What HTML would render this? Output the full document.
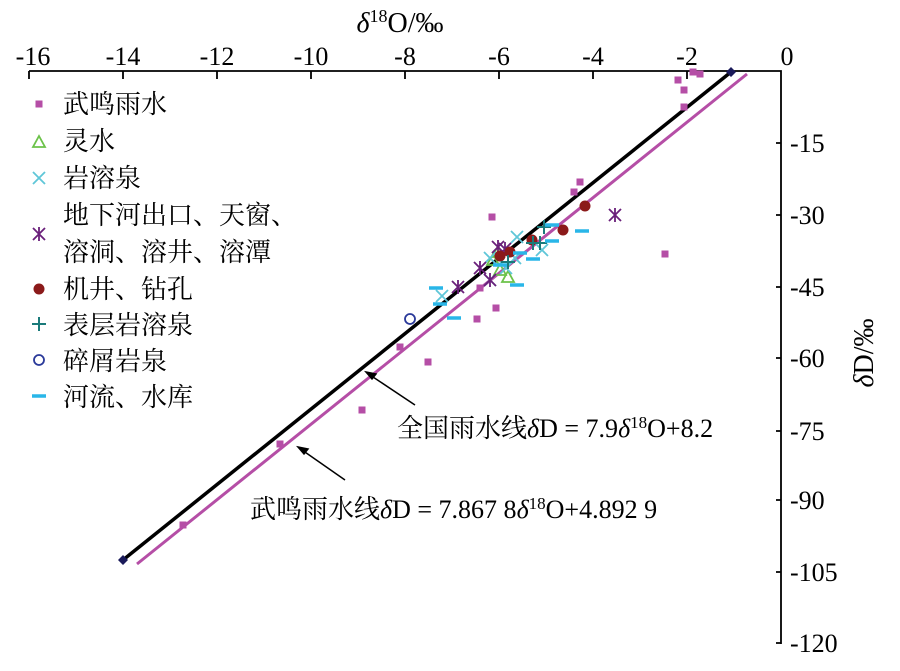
<!DOCTYPE html>
<html><head><meta charset="utf-8"><style>
body{margin:0;background:#fff}
svg text{font-family:"Liberation Serif","Noto Serif CJK SC",serif;fill:#000}
</style></head><body>
<svg width="900" height="666" viewBox="0 0 900 666" xmlns="http://www.w3.org/2000/svg">
<defs>
<rect id="sq" x="-3.5" y="-3.5" width="7" height="7" fill="#b54ea6"/>
<path id="tr" d="M0,-6 L6,5 L-6,5Z" fill="none" stroke="#6cc24a" stroke-width="1.8"/>
<path id="xx" d="M-6,-6L6,6M-6,6L6,-6" stroke="#5fc6d8" stroke-width="1.8"/>
<path id="st" d="M-6,-6L6,6M-6,6L6,-6M0,-7V7" stroke="#6a1f7a" stroke-width="1.8"/>
<circle id="ci" r="5.5" fill="#8b1a1a"/>
<path id="pl" d="M-7,0H7M0,-7V7" stroke="#1a7a7a" stroke-width="2"/>
<circle id="oc" r="5" fill="none" stroke="#2b3a9a" stroke-width="1.8"/>
<path id="ds" d="M-7,0H7" stroke="#29b6e8" stroke-width="3.5"/>
</defs>
<text x="400" y="32" font-size="28" text-anchor="middle"><tspan font-style="italic">δ</tspan><tspan font-size="18" dy="-10">18</tspan><tspan dy="10">O/‰</tspan></text>
<g font-size="26" text-anchor="middle">
<text x="33" y="65">-16</text><text x="123" y="65">-14</text><text x="217" y="65">-12</text><text x="311" y="65">-10</text><text x="405" y="65">-8</text><text x="499" y="65">-6</text><text x="593" y="65">-4</text><text x="687" y="65">-2</text><text x="787" y="65">0</text>
</g>
<g stroke="#000" stroke-width="1.8" fill="none">
<path d="M29,71H781V644"/>
<path d="M29,71v8M123,71v8M217,71v8M311,71v8M405,71v8M499,71v8M593,71v8M687,71v8"/>
<path d="M776,143h5M776,215h5M776,287h5M776,358h5M776,431h5M776,500h5M776,572h5M776,643h5"/>
</g>
<g font-size="26">
<text x="790" y="152">-15</text><text x="790" y="224">-30</text><text x="790" y="296">-45</text><text x="790" y="367">-60</text><text x="790" y="440">-75</text><text x="790" y="509">-90</text><text x="790" y="581">-105</text><text x="790" y="652">-120</text>
</g>
<text transform="translate(873,353) rotate(-90)" font-size="28" text-anchor="middle"><tspan font-style="italic">δ</tspan>D/‰</text>
<line x1="123" y1="560" x2="731" y2="72" stroke="#000" stroke-width="3.5"/>
<line x1="137" y1="564" x2="747" y2="74" stroke="#b54ea6" stroke-width="3"/>
<path d="M123,555l5,5l-5,5l-5,-5zM731,67l5,5l-5,5l-5,-5z" fill="#1a1a5a"/>
<g>
<use href="#sq" x="678" y="80"/><use href="#sq" x="693" y="72"/><use href="#sq" x="700" y="74"/><use href="#sq" x="684" y="90"/><use href="#sq" x="684" y="107"/><use href="#sq" x="580" y="182"/><use href="#sq" x="574" y="192"/><use href="#sq" x="492" y="217"/><use href="#sq" x="665" y="254"/><use href="#sq" x="477" y="319"/><use href="#sq" x="496" y="308"/><use href="#sq" x="400" y="347"/><use href="#sq" x="428" y="362"/><use href="#sq" x="362" y="410"/><use href="#sq" x="280" y="444"/><use href="#sq" x="183" y="525"/><use href="#sq" x="480" y="288"/>
<use href="#tr" x="500" y="270"/><use href="#tr" x="508" y="277"/><use href="#tr" x="498" y="252"/><use href="#tr" x="493" y="260"/>
<use href="#xx" x="517" y="237"/><use href="#xx" x="542" y="250"/><use href="#xx" x="442" y="296"/><use href="#xx" x="490" y="258"/><use href="#xx" x="506" y="268"/><use href="#xx" x="490" y="280"/><use href="#xx" x="515" y="258"/>
<use href="#st" x="615" y="215"/><use href="#st" x="498" y="247"/><use href="#st" x="480" y="268"/><use href="#st" x="458" y="287"/><use href="#st" x="490" y="280"/><use href="#st" x="505" y="249"/>
<use href="#ci" x="585" y="206"/><use href="#ci" x="563" y="230"/><use href="#ci" x="532" y="240"/><use href="#ci" x="500" y="256"/><use href="#ci" x="510" y="252"/>
<use href="#pl" x="544" y="227"/><use href="#pl" x="533" y="243"/><use href="#pl" x="540" y="243"/><use href="#pl" x="508" y="262"/>
<use href="#oc" x="410" y="319"/>
<use href="#ds" x="552" y="225"/><use href="#ds" x="582" y="231"/><use href="#ds" x="552" y="241"/><use href="#ds" x="533" y="259"/><use href="#ds" x="517" y="285"/><use href="#ds" x="436" y="288"/><use href="#ds" x="440" y="304"/><use href="#ds" x="454" y="318"/><use href="#ds" x="520" y="253"/><use href="#ds" x="500" y="265"/>
</g>
<g>
<use href="#sq" x="39" y="104"/><use href="#tr" x="39" y="142"/><use href="#xx" x="39" y="178"/><use href="#st" x="39" y="234"/><use href="#ci" x="39" y="289"/><use href="#pl" x="39" y="324"/><use href="#oc" x="39" y="360"/><use href="#ds" x="39" y="396"/>
</g>
<g font-size="26">
<text x="63" y="113">武鸣雨水</text><text x="63" y="150">灵水</text><text x="63" y="187">岩溶泉</text><text x="63" y="224">地下河出口、天窗、</text><text x="63" y="261">溶洞、溶井、溶潭</text><text x="63" y="298">机井、钻孔</text><text x="63" y="334">表层岩溶泉</text><text x="63" y="370">碎屑岩泉</text><text x="63" y="406">河流、水库</text>
</g>
<g stroke="#000" stroke-width="1.5" fill="#000">
<line x1="415" y1="405" x2="370" y2="375"/><path d="M366,372l10,2l-4,5z"/>
<line x1="345" y1="480" x2="302" y2="450"/><path d="M298,447l10,2l-4,5z"/>
</g>
<text x="397" y="437" font-size="26">全国雨水线<tspan font-style="italic">δ</tspan>D = 7.9<tspan font-style="italic">δ</tspan><tspan font-size="17" dy="-9">18</tspan><tspan dy="9">O+8.2</tspan></text>
<text x="250" y="518" font-size="26">武鸣雨水线<tspan font-style="italic">δ</tspan>D = 7.867 8<tspan font-style="italic">δ</tspan><tspan font-size="17" dy="-9">18</tspan><tspan dy="9">O+4.892 9</tspan></text>
</svg>
</body></html>
